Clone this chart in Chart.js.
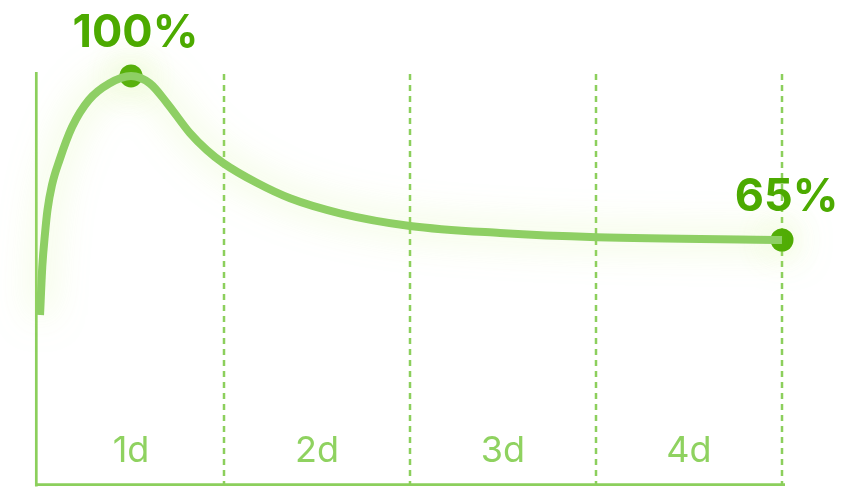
<!DOCTYPE html>
<html><head><meta charset="utf-8">
<script src="https://cdn.jsdelivr.net/npm/chart.js@4"></script>
<style>html,body{margin:0;padding:0;background:#fff;overflow:hidden}#w{position:relative;width:842px;height:487px}canvas{display:block}</style>
</head><body>
<div id="w"><canvas id="c"></canvas></div>
<script>
// Data
const days = [0.011, 0.023, 0.038, 0.051, 0.075, 0.116, 0.183, 0.274, 0.383, 0.5, 0.602, 0.694, 0.817, 0.907, 0.996, 1.176, 1.355, 1.624, 2.0, 2.484, 3.005, 4.0];
const retention = [49.0, 59.3, 66.5, 71.4, 76.7, 82.1, 89.1, 94.9, 98.4, 100, 98.4, 94.2, 87.8, 84.2, 81.4, 77.2, 73.9, 70.7, 68.0, 66.5, 65.6, 65.0];
const dayTicks = [1, 2, 3, 4];
const dayLabels = ['1d', '2d', '3d', '4d'];
const markerDays = [0.5, 4];
const markerValues = [100, 65];
const markerLabels = ['100%', '65%'];

const LINE = '#8ecf64';
const AXIS = '#8ccf5c';
const DOT = '#4caa00';
const FONT = 'Inter, "Noto Sans", sans-serif';

const decor = {
  id: 'decor',
  beforeDatasetsDraw(chart) {
    const {ctx, chartArea: a, scales: {x}} = chart;
    ctx.save();
    // dashed verticals
    ctx.strokeStyle = AXIS;
    ctx.lineWidth = 2.5;
    ctx.setLineDash([6, 5]);
    dayTicks.forEach(d => {
      const px = Math.round(x.getPixelForValue(d));
      ctx.beginPath();
      ctx.moveTo(px, a.top + 2);
      ctx.lineTo(px, a.bottom);
      ctx.stroke();
    });
    ctx.setLineDash([]);
    // axes
    ctx.lineWidth = 2.7;
    ctx.beginPath();
    ctx.moveTo(a.left - 1.7, a.top);
    ctx.lineTo(a.left - 1.7, a.bottom + 1.5);
    ctx.moveTo(a.left - 3, a.bottom - 0.3);
    ctx.lineTo(a.right + 3, a.bottom - 0.3);
    ctx.stroke();
    // day labels
    ctx.fillStyle = '#8fd260';
    ctx.font = '36px ' + FONT;
    ctx.textAlign = 'center';
    ctx.textBaseline = 'alphabetic';
    dayLabels.forEach((t, i) => {
      const px = (x.getPixelForValue(dayTicks[i] - 1) + x.getPixelForValue(dayTicks[i])) / 2;
      ctx.fillText(t, px, a.bottom - 23);
    });
    ctx.restore();
  },
  afterDatasetsDraw(chart) {
    const {ctx, scales: {x, y}} = chart;
    ctx.save();
    ctx.fillStyle = DOT;
    ctx.font = 'bold 45px ' + FONT;
    ctx.textAlign = 'center';
    ctx.textBaseline = 'alphabetic';
    markerLabels.forEach((t, i) => {
      ctx.fillText(t, x.getPixelForValue(markerDays[i]) + 4.5, y.getPixelForValue(markerValues[i]) - 29);
    });
    ctx.restore();
  },
  beforeDatasetDraw(chart, args) {
    const ctx = chart.ctx;
    ctx.save();
    ctx.shadowColor = 'rgba(200,240,120,0.6)';
    ctx.shadowBlur = 36;
  },
  afterDatasetDraw(chart) {
    chart.ctx.restore();
  }
};

new Chart(document.getElementById('c'), {
  type: 'line',
  data: {
    datasets: [
      {
        data: days.map((d, i) => ({x: d, y: retention[i]})),
        borderColor: LINE,
        borderWidth: 8,
        borderCapStyle: 'butt',
        cubicInterpolationMode: 'monotone',
        pointRadius: 0,
        fill: false,
        clip: false
      },
      {
        data: markerDays.map((d, i) => ({x: d, y: markerValues[i]})),
        showLine: false,
        pointRadius: 11.5,
        pointBackgroundColor: DOT,
        pointBorderWidth: 0,
        pointBorderColor: DOT,
        clip: false
      }
    ]
  },
  options: {
    responsive: true,
    maintainAspectRatio: false,
    animation: false,
    devicePixelRatio: 1,
    layout: {autoPadding: false, padding: {left: 38, right: 60, top: 72, bottom: 2}},
    plugins: {legend: {display: false}, tooltip: {enabled: false}},
    scales: {
      x: {type: 'linear', min: 0, max: 4, display: false},
      y: {type: 'linear', min: 12.72, max: 100.85, display: false}
    },
    elements: {point: {hoverRadius: 11.5}}
  },
  plugins: [decor]
});
</script>
</body></html>
